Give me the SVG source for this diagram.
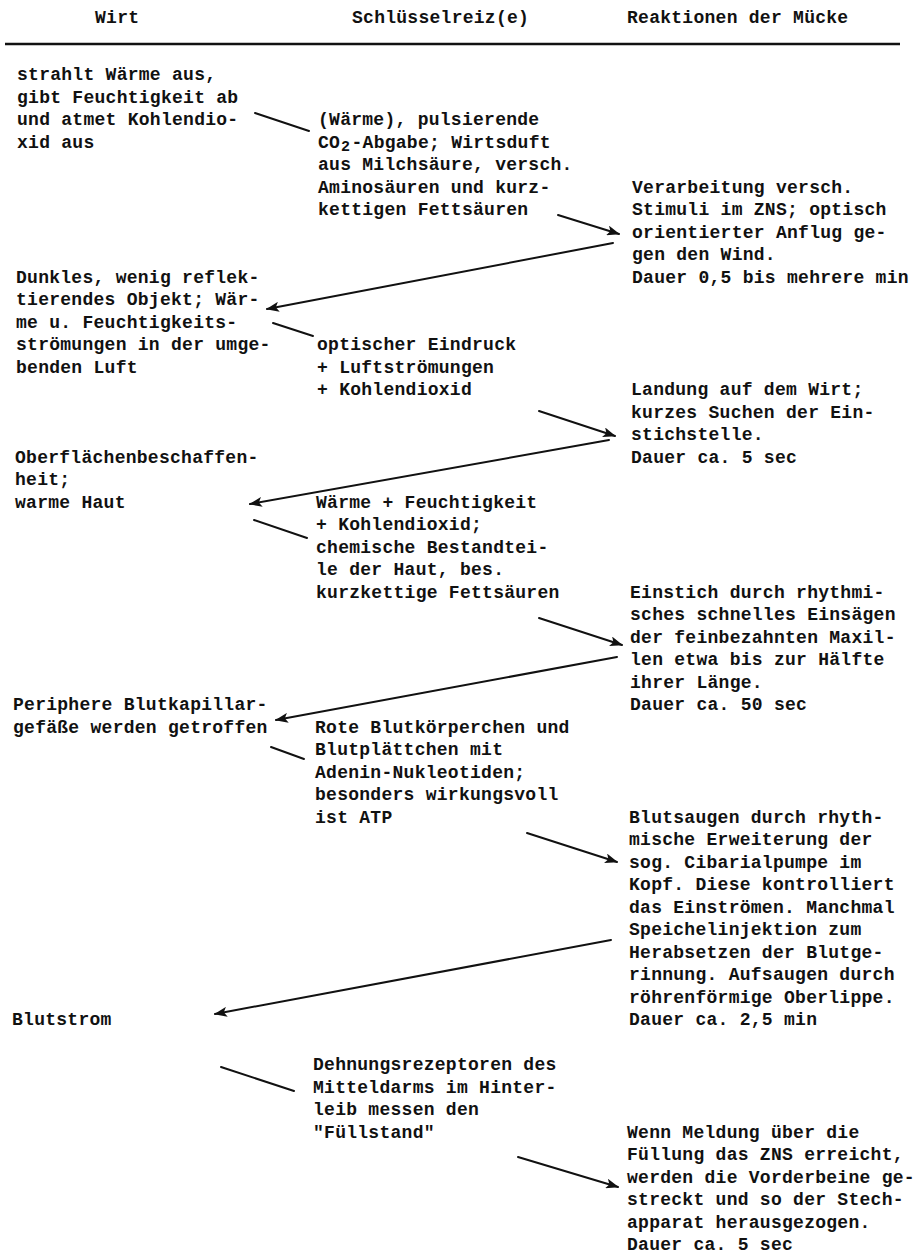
<svg xmlns="http://www.w3.org/2000/svg" width="924" height="1255" viewBox="0 0 924 1255">
<style>
text{font-family:"Liberation Mono","DejaVu Sans Mono",monospace;font-size:18px;font-weight:700;letter-spacing:0.27px;fill:#111}
.sub{font-size:15px;letter-spacing:1.07px}
.c line{stroke:#111;stroke-width:2;stroke-linecap:round}
.a{marker-end:url(#ah)}
</style>
<defs>
<marker id="ah" markerUnits="userSpaceOnUse" markerWidth="14" markerHeight="10" refX="12" refY="5" orient="auto">
<path d="M0,0 L13,5 L0,10 L3,5 z" fill="#111"/>
</marker>
</defs>
<rect width="924" height="1255" fill="#fff"/>
<g id="header">
<text x="95" y="23">Wirt</text>
<text x="352" y="23">Schlüsselreiz(e)</text>
<text x="627" y="23">Reaktionen der Mücke</text>
<line x1="5" y1="44" x2="900" y2="44" stroke="#111" stroke-width="2.5"/>
</g>
<g id="wirt1"><text><tspan x="17" y="80">strahlt Wärme aus,</tspan><tspan x="17" y="102.5">gibt Feuchtigkeit ab</tspan><tspan x="17" y="125">und atmet Kohlendio-</tspan><tspan x="17" y="147.5">xid aus</tspan></text></g>
<g id="reiz1"><text><tspan x="318" y="125">(Wärme), pulsierende</tspan><tspan x="318" y="147.5">CO</tspan><tspan class="sub" x="341" y="151">2</tspan><tspan x="351.5" y="147.5">-Abgabe; Wirtsduft</tspan><tspan x="318" y="170">aus Milchsäure, versch.</tspan><tspan x="318" y="192.5">Aminosäuren und kurz-</tspan><tspan x="318" y="215">kettigen Fettsäuren</tspan></text></g>
<g id="reaktion1"><text><tspan x="632" y="192.5">Verarbeitung versch.</tspan><tspan x="632" y="215">Stimuli im ZNS; optisch</tspan><tspan x="632" y="237.5">orientierter Anflug ge-</tspan><tspan x="632" y="260">gen den Wind.</tspan><tspan x="632" y="282.5">Dauer 0,5 bis mehrere min</tspan></text></g>
<g id="wirt2"><text><tspan x="16" y="282.5">Dunkles, wenig reflek-</tspan><tspan x="16" y="305">tierendes Objekt; Wär-</tspan><tspan x="16" y="327.5">me u. Feuchtigkeits-</tspan><tspan x="16" y="350">strömungen in der umge-</tspan><tspan x="16" y="372.5">benden Luft</tspan></text></g>
<g id="reiz2"><text><tspan x="317" y="350">optischer Eindruck</tspan><tspan x="317" y="372.5">+ Luftströmungen</tspan><tspan x="317" y="395">+ Kohlendioxid</tspan></text></g>
<g id="reaktion2"><text><tspan x="631" y="395">Landung auf dem Wirt;</tspan><tspan x="631" y="417.5">kurzes Suchen der Ein-</tspan><tspan x="631" y="440">stichstelle.</tspan><tspan x="631" y="462.5">Dauer ca. 5 sec</tspan></text></g>
<g id="wirt3"><text><tspan x="15" y="462.5">Oberflächenbeschaffen-</tspan><tspan x="15" y="485">heit;</tspan><tspan x="15" y="507.5">warme Haut</tspan></text></g>
<g id="reiz3"><text><tspan x="316" y="507.5">Wärme + Feuchtigkeit</tspan><tspan x="316" y="530">+ Kohlendioxid;</tspan><tspan x="316" y="552.5">chemische Bestandtei-</tspan><tspan x="316" y="575">le der Haut, bes.</tspan><tspan x="316" y="597.5">kurzkettige Fettsäuren</tspan></text></g>
<g id="reaktion3"><text><tspan x="630" y="597.5">Einstich durch rhythmi-</tspan><tspan x="630" y="620">sches schnelles Einsägen</tspan><tspan x="630" y="642.5">der feinbezahnten Maxil-</tspan><tspan x="630" y="665">len etwa bis zur Hälfte</tspan><tspan x="630" y="687.5">ihrer Länge.</tspan><tspan x="630" y="710">Dauer ca. 50 sec</tspan></text></g>
<g id="wirt4"><text><tspan x="13" y="710">Periphere Blutkapillar-</tspan><tspan x="13" y="732.5">gefäße werden getroffen</tspan></text></g>
<g id="reiz4"><text><tspan x="315" y="732.5">Rote Blutkörperchen und</tspan><tspan x="315" y="755">Blutplättchen mit</tspan><tspan x="315" y="777.5">Adenin-Nukleotiden;</tspan><tspan x="315" y="800">besonders wirkungsvoll</tspan><tspan x="315" y="822.5">ist ATP</tspan></text></g>
<g id="reaktion4"><text><tspan x="629" y="822.5">Blutsaugen durch rhyth-</tspan><tspan x="629" y="845">mische Erweiterung der</tspan><tspan x="629" y="867.5">sog. Cibarialpumpe im</tspan><tspan x="629" y="890">Kopf. Diese kontrolliert</tspan><tspan x="629" y="912.5">das Einströmen. Manchmal</tspan><tspan x="629" y="935">Speichelinjektion zum</tspan><tspan x="629" y="957.5">Herabsetzen der Blutge-</tspan><tspan x="629" y="980">rinnung. Aufsaugen durch</tspan><tspan x="629" y="1002.5">röhrenförmige Oberlippe.</tspan><tspan x="629" y="1025">Dauer ca. 2,5 min</tspan></text></g>
<g id="wirt5"><text><tspan x="12" y="1025">Blutstrom</tspan></text></g>
<g id="reiz5"><text><tspan x="313" y="1070">Dehnungsrezeptoren des</tspan><tspan x="313" y="1092.5">Mitteldarms im Hinter-</tspan><tspan x="313" y="1115">leib messen den</tspan><tspan x="313" y="1137.5">"Füllstand"</tspan></text></g>
<g id="reaktion5"><text><tspan x="627" y="1137.5">Wenn Meldung über die</tspan><tspan x="627" y="1160">Füllung das ZNS erreicht,</tspan><tspan x="627" y="1182.5">werden die Vorderbeine ge-</tspan><tspan x="627" y="1205">streckt und so der Stech-</tspan><tspan x="627" y="1227.5">apparat herausgezogen.</tspan><tspan x="627" y="1250">Dauer ca. 5 sec</tspan></text></g>
<g id="connectors" class="c">
<line x1="255" y1="113" x2="309" y2="131"/>
<line class="a" x1="558" y1="215" x2="619" y2="234"/>
<line class="a" x1="613" y1="243" x2="267" y2="309"/>
<line x1="273" y1="323" x2="313" y2="336"/>
<line class="a" x1="539" y1="411" x2="615" y2="436"/>
<line class="a" x1="609" y1="440" x2="250" y2="504"/>
<line x1="254" y1="520" x2="307" y2="538"/>
<line class="a" x1="539" y1="618" x2="622" y2="645"/>
<line class="a" x1="617" y1="657" x2="276" y2="720"/>
<line x1="271" y1="747" x2="304" y2="759"/>
<line class="a" x1="527" y1="833" x2="617" y2="862"/>
<line class="a" x1="611" y1="940" x2="215" y2="1014"/>
<line x1="221" y1="1067" x2="294" y2="1091"/>
<line class="a" x1="518" y1="1157" x2="618" y2="1187"/>
</g>
</svg>
